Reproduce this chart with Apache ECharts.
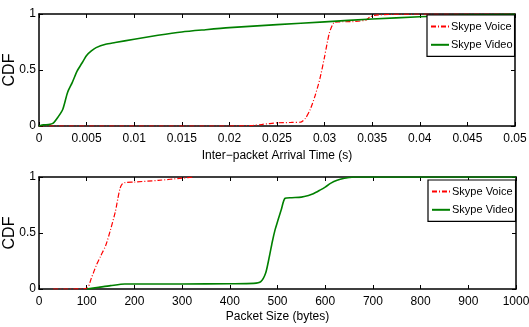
<!DOCTYPE html>
<html><head><meta charset="utf-8">
<script src="https://cdn.jsdelivr.net/npm/echarts@6/dist/echarts.min.js"></script>
<style>html,body{margin:0;padding:0;background:#fff}#c{width:529px;height:327px}</style>
</head><body><div id="c"></div>
<script>
// Top panel: inter-packet arrival time CDF
const voiceTimeX = [0, 0.01, 0.02, 0.0225, 0.0235, 0.025, 0.0265, 0.0275, 0.028, 0.0285, 0.029, 0.0295, 0.03, 0.0305, 0.031, 0.0315, 0.033, 0.0343, 0.0348, 0.0352, 0.037, 0.04, 0.05];
const voiceTimeY = [0, 0, 0, 0.005, 0.015, 0.028, 0.032, 0.035, 0.07, 0.15, 0.27, 0.42, 0.62, 0.83, 0.925, 0.93, 0.932, 0.945, 0.975, 0.988, 0.997, 1, 1];
const videoTimeX = [0, 0.0005, 0.001, 0.0015, 0.002, 0.0025, 0.003, 0.0035, 0.004, 0.0045, 0.005, 0.0055, 0.006, 0.007, 0.008, 0.01, 0.0125, 0.015, 0.0175, 0.02, 0.025, 0.03, 0.035, 0.04, 0.045, 0.05];
const videoTimeY = [0, 0.01, 0.012, 0.025, 0.08, 0.15, 0.3, 0.39, 0.49, 0.56, 0.63, 0.67, 0.7, 0.73, 0.745, 0.775, 0.81, 0.84, 0.86, 0.878, 0.905, 0.93, 0.955, 0.975, 0.99, 0.997];
// Bottom panel: packet size CDF
const voiceSizeX = [30, 60, 100, 110, 120, 130, 140, 150, 160, 165, 170, 175, 180, 200, 250, 300, 325];
const voiceSizeY = [0, 0, 0.005, 0.1, 0.21, 0.3, 0.39, 0.53, 0.69, 0.8, 0.9, 0.94, 0.95, 0.955, 0.97, 0.99, 1];
const videoSizeX = [100, 125, 150, 180, 200, 300, 400, 450, 465, 475, 482, 489, 495, 500, 508, 516, 530, 550, 565, 575, 590, 600, 612, 625, 640, 650, 660, 1000];
const videoSizeY = [0, 0.015, 0.03, 0.045, 0.045, 0.045, 0.047, 0.05, 0.065, 0.14, 0.27, 0.42, 0.53, 0.6, 0.71, 0.81, 0.815, 0.82, 0.835, 0.85, 0.885, 0.91, 0.945, 0.97, 0.988, 0.995, 1, 1];
const timeTicks = ['0', '0.005', '0.01', '0.015', '0.02', '0.025', '0.03', '0.035', '0.04', '0.045', '0.05'];
const sizeTicks = ['0', '100', '200', '300', '400', '500', '600', '700', '800', '900', '1000'];
const yTicks = ['0', '0.5', '1'];
const seriesNames = ['Skype Voice', 'Skype Video'];
const xNames = ['Inter\u2212packet Arrival Time (s)', 'Packet Size (bytes)'];

const FONT = 'Liberation Sans, Arial, sans-serif';
const RED = '#ff0000', GREEN = '#008000';
const zip = (a, b) => a.map((v, i) => [v, b[i]]);

const grids = [
  {left: 39, right: 14, top: 14, height: 112, containLabel: false, outerBoundsMode: 'none'},
  {left: 39, right: 13, top: 177, height: 112, containLabel: false, outerBoundsMode: 'none'}
];
const ranges = [{max: 0.05, interval: 0.005, ticks: timeTicks}, {max: 1000, interval: 100, ticks: sizeTicks}];

const axisLine = {show: true, onZero: false, lineStyle: {color: '#000', width: 1.5}};
const axisTick = {show: true, inside: true, length: 4, lineStyle: {color: '#000', width: 1}};
const xAxis = [], yAxis = [];
ranges.forEach((r, i) => {
  const base = {type: 'value', gridIndex: i, min: 0, max: r.max, interval: r.interval,
    splitLine: {show: false}, axisLine, axisTick};
  xAxis.push(Object.assign({}, base, {position: 'bottom',
    name: xNames[i], nameLocation: 'middle', nameGap: i === 0 ? 24 : 22, nameMoveOverlap: false,
    nameTextStyle: {fontFamily: FONT, fontSize: 12, color: '#000'},
    axisLabel: {fontFamily: FONT, fontSize: 12, color: '#000', margin: 7,
      formatter: (v) => r.ticks[Math.round(v / r.interval)]}}));
  xAxis.push(Object.assign({}, base, {position: 'top', axisLabel: {show: false}}));
  const yb = {type: 'value', gridIndex: i, min: 0, max: 1, interval: 0.5,
    splitLine: {show: false}, axisLine, axisTick};
  yAxis.push(Object.assign({}, yb, {position: 'left', name: 'CDF', nameLocation: 'middle', nameGap: 21,
    nameMoveOverlap: false,
    nameTextStyle: {fontFamily: FONT, fontSize: 16, color: '#000'},
    axisLabel: {fontFamily: FONT, fontSize: 12, color: '#000', margin: 3,
      formatter: (v) => yTicks[Math.round(v / 0.5)]}}));
  yAxis.push(Object.assign({}, yb, {position: 'right', axisLabel: {show: false}}));
});

const mk = (name, data, grid, color, dashed) => ({
  name, type: 'line', xAxisIndex: grid * 2, yAxisIndex: grid * 2, data,
  symbol: 'none', smooth: 0.25, clip: true,
  lineStyle: {color, width: dashed ? 1.2 : 1.6, type: dashed ? [5, 2, 1, 2] : 'solid'},
  itemStyle: {color}
});

const series = [
  mk(seriesNames[0], zip(voiceTimeX, voiceTimeY), 0, RED, true),
  mk(seriesNames[1], zip(videoTimeX, videoTimeY), 0, GREEN, false),
  mk(seriesNames[0], zip(voiceSizeX, voiceSizeY), 1, RED, true),
  mk(seriesNames[1], zip(videoSizeX, videoSizeY), 1, GREEN, false)
];

const legendBase = {orient: 'vertical', data: seriesNames, backgroundColor: '#fff',
  borderColor: '#000', borderWidth: 1.2, borderRadius: 0, padding: [6, 2, 6, 3], itemGap: 7,
  itemWidth: 18, itemHeight: 14, selectedMode: false,
  itemStyle: {opacity: 0},
  textStyle: {fontFamily: FONT, fontSize: 11, color: '#000', padding: [0, 0, 0, -3]}};

const chart = echarts.init(document.getElementById('c'), null, {renderer: 'canvas'});
chart.setOption({
  animation: false,
  backgroundColor: '#fff',
  grid: grids,
  xAxis, yAxis, series,
  legend: [
    Object.assign({}, legendBase, {left: 427, top: 15}),
    Object.assign({}, legendBase, {left: 428, top: 180})
  ]
});
</script></body></html>
